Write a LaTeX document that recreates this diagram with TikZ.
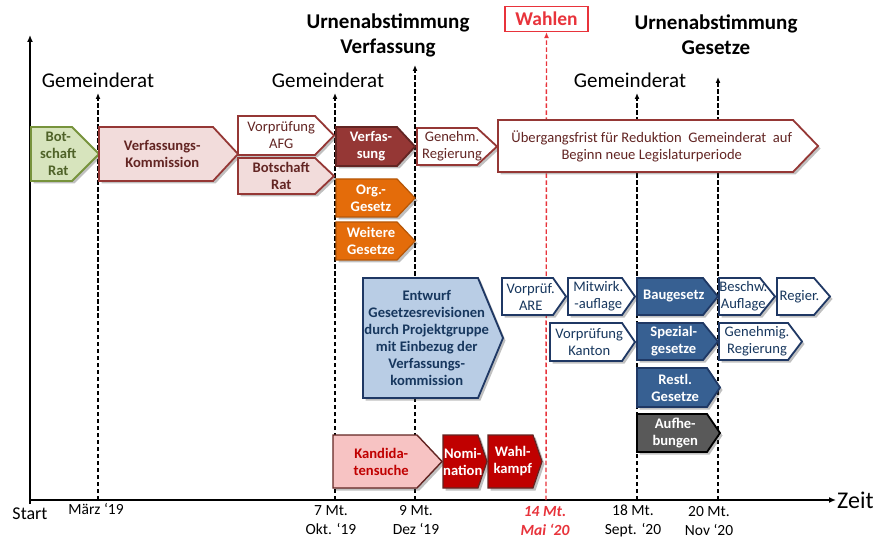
\documentclass[tikz,border=0pt]{standalone}
\usepackage{fontspec}
\setmainfont{Carlito}
\usetikzlibrary{arrows.meta,shadows}

\definecolor{dred}{HTML}{953735}
\definecolor{dredt}{HTML}{632523}
\definecolor{pinkf}{HTML}{F2DCDB}
\definecolor{greenf}{HTML}{D7E4BD}
\definecolor{greend}{HTML}{77933C}
\definecolor{greent}{HTML}{4F6228}
\definecolor{orangef}{HTML}{E46C0A}
\definecolor{oranged}{HTML}{B65708}
\definecolor{bluel}{HTML}{B9CDE5}
\definecolor{blued}{HTML}{1F3864}
\definecolor{bluet}{HTML}{17375E}
\definecolor{bluem}{HTML}{376092}
\definecolor{grayf}{HTML}{595959}
\definecolor{kandf}{HTML}{F7C3C3}
\definecolor{redf}{HTML}{C00000}
\definecolor{wred}{HTML}{E8333B}

\newcommand\bxf{\fontsize{14.6}{17}\selectfont}
\newcommand\pbox[9]{%
  \draw[#2] (#4,#5) -- ({#6-#8},#5) -- (#6,{(#5+#7)/2}) -- ({#6-#8},#7) -- (#4,#7) -- cycle;
  \node[#3] (#1) at ({(#4+#6-0.5*#8)/2},{(#5+#7)/2}) {#9};}

\tikzset{
  base/.style={line width=1.8pt, line join=miter,
    drop shadow={shadow xshift=2.5pt, shadow yshift=-2.5pt, opacity=.35, fill=black!70}},
  greenbox/.style={base, draw=greend, fill=greenf},
  redW/.style={base, draw=dred, fill=white},
  redP/.style={base, draw=dred, fill=pinkf},
  redD/.style={base, draw=dredt, fill=dred},
  orbox/.style={base, draw=oranged, line width=1.2pt, fill=orangef},
  blueL/.style={base, draw=blued, fill=bluel},
  blueW/.style={base, draw=blued, fill=white},
  blueD/.style={base, draw=blued, fill=bluem},
  grbox/.style={base, draw=black, fill=grayf},
  kandbox/.style={base, draw=dredt, line width=1.4pt, fill=kandf},
  redF/.style={base, draw=dredt, line width=1.2pt, fill=redf},
  tx/.style={align=center, inner sep=0pt, font=\bxf},
  txb/.style={tx, font=\bxf\bfseries},
  tGreen/.style={txb, text=greent},
  tRedN/.style={tx, text=dredt},
  tRedB/.style={txb, text=dredt},
  tWhite/.style={txb, text=white},
  tBlueN/.style={tx, text=bluet},
  tBlueB/.style={txb, text=bluet},
  tKand/.style={txb, text=redf},
  dl/.style={line width=1.4pt, dash pattern=on 4.5pt off 2.5pt, -{Latex[length=6pt,width=5pt]}},
  axis/.style={line width=1.3pt, -{Latex[length=7pt,width=6pt]}},
  lab/.style={inner sep=0pt, font=\fontsize{21}{25}\selectfont},
  head/.style={inner sep=0pt, align=center, font=\fontsize{21}{25}\selectfont\bfseries},
  axl/.style={inner sep=0pt, align=center, font=\fontsize{15.5}{19}\selectfont},
}

\begin{document}
\begin{tikzpicture}[x=1pt,y=-1pt]
\useasboundingbox (0,0) rectangle (876,540);
\fill[white] (0,0) rectangle (876,540);

% axes
\coordinate (O) at (30,500);
\coordinate (Obot) at (30,504);
\coordinate (ytop) at (30,35);
\coordinate (xend) at (836,500);
\draw[axis] (Obot) -- (ytop);
\draw[axis] (O) -- (xend);
\node[lab, font=\fontsize{24}{28}\selectfont, anchor=west] (zeit) at (837,500) {Zeit};

% time markers
\coordinate (m1b) at (98,500);  \coordinate (m1t) at (98,93);
\coordinate (m7b) at (335,500); \coordinate (m7t) at (335,93);
\coordinate (m9b) at (415,500); \coordinate (m9t) at (415,65);
\coordinate (m14b) at (546,500);
\coordinate (m18b) at (637,500); \coordinate (m18t) at (637,93);
\coordinate (m20b) at (718,500); \coordinate (m20t) at (718,77);

\node[lab] (g1) at (98,80) {Gemeinderat};
\node[lab] (g2) at (328,80) {Gemeinderat};
\node[lab] (g3) at (630,80) {Gemeinderat};
\node[head] (u1) at (388,35) {Urnenabstimmung\\Verfassung};
\node[head] (u2) at (716,35) {Urnenabstimmung\\Gesetze};
\node[draw=wred, line width=1.2pt, fill=white, text=wred, minimum width=83pt, minimum height=25pt,
      inner sep=0pt, font=\fontsize{19.5}{22}\selectfont\bfseries] (wahlen) at (546.5,19) {Wahlen};

\draw[dl] (m1b) -- (m1t);
\draw[dl] (m7b) -- (m7t);
\draw[dl] (m9b) -- (m9t);
\draw[dl, wred] (m14b) -- (wahlen.south);
\draw[dl] (m18b) -- (m18t);
\draw[dl] (m20b) -- (m20t);

% axis labels
\node[axl, font=\fontsize{18}{20}\selectfont] (start) at (30,514) {Start};
\node[axl] (l1) at (96,509) {März ‘19};
\node[axl] (l7) at (331,520.5) {7 Mt.\\Okt. ‘19};
\node[axl] (l9) at (416,520.5) {9 Mt.\\Dez ‘19};
\node[axl, text=wred, font=\fontsize{15.5}{19}\selectfont\bfseries\itshape] (l14) at (545,521) {14 Mt.\\Mai ‘20};
\node[axl] (l18) at (633,521) {18 Mt.\\Sept. ‘20};
\node[axl] (l20) at (709,521) {20 Mt.\\Nov ‘20};

% boxes
\pbox{botrat}{greenbox}{tGreen}{31}{127}{99}{181}{27}{Bot-\\schaft\\Rat}
\pbox{vkom}{redP}{tRedB}{99}{127}{238}{181}{25}{Verfassungs-\\Kommission}
\pbox{vafg}{redW}{tRedN}{238}{116}{334}{155}{19}{Vorprüfung\\AFG}
\pbox{brat}{redP}{tRedB}{238}{158}{334}{194}{19}{Botschaft\\Rat}
\pbox{verf}{redD}{tWhite}{336}{127}{415}{166}{18}{Verfas-\\sung}
\pbox{genehm}{redW}{tRedN}{417}{128}{497}{165}{20}{Genehm.\\Regierung}
\pbox{ueber}{redW}{tRedN}{498}{120}{818}{172}{25}{Übergangsfrist für Reduktion\ \ Gemeinderat\ \ auf\\Beginn neue Legislaturperiode}
\pbox{org}{orbox}{tWhite}{336}{179}{415}{217}{18}{Org.-\\Gesetz}
\pbox{weit}{orbox}{tWhite}{336}{222}{415}{260}{18}{Weitere\\Gesetze}
\pbox{entw}{blueL}{tBlueB}{363}{278}{503}{398}{25}{Entwurf\\Gesetzesrevisionen\\durch Projektgruppe\\mit Einbezug der\\Verfassungs-\\kommission}
\pbox{vare}{blueW}{tBlueN}{502}{278}{566}{315}{13}{Vorprüf.\\ARE}
\pbox{mitw}{blueW}{tBlueN}{568}{278}{635}{315}{13}{Mitwirk.\\-auflage}
\pbox{vkant}{blueW}{tBlueN}{550}{323}{635}{361}{13}{Vorprüfung\\Kanton}
\pbox{baug}{blueD}{tWhite}{637}{278}{718}{315}{15}{Baugesetz}
\pbox{beschw}{blueW}{tBlueN}{719}{278}{775}{315}{15}{Beschw.\\Auflage}
\pbox{regier}{blueW}{tBlueN}{777}{278}{830}{315}{16}{Regier.}
\pbox{spez}{blueD}{tWhite}{637}{323}{718}{360}{15}{Spezial-\\gesetze}
\pbox{genehmig}{blueW}{tBlueN}{719}{323}{802}{360}{14}{Genehmig.\\Regierung}
\pbox{restl}{blueD}{tWhite}{637}{368}{720}{407}{13}{Restl.\\Gesetze}
\pbox{aufh}{grbox}{tWhite}{637}{414}{720}{452}{13}{Aufhe-\\bungen}
\pbox{kand}{kandbox}{tKand}{333}{435}{442}{488}{25}{Kandida-\\tensuche}
\pbox{nomi}{redF}{tWhite}{443}{435}{487}{488}{9}{Nomi-\\nation}
\pbox{wahl}{redF}{tWhite}{488}{435}{542}{488}{9}{Wahl-\\kampf}
\end{tikzpicture}
\end{document}
